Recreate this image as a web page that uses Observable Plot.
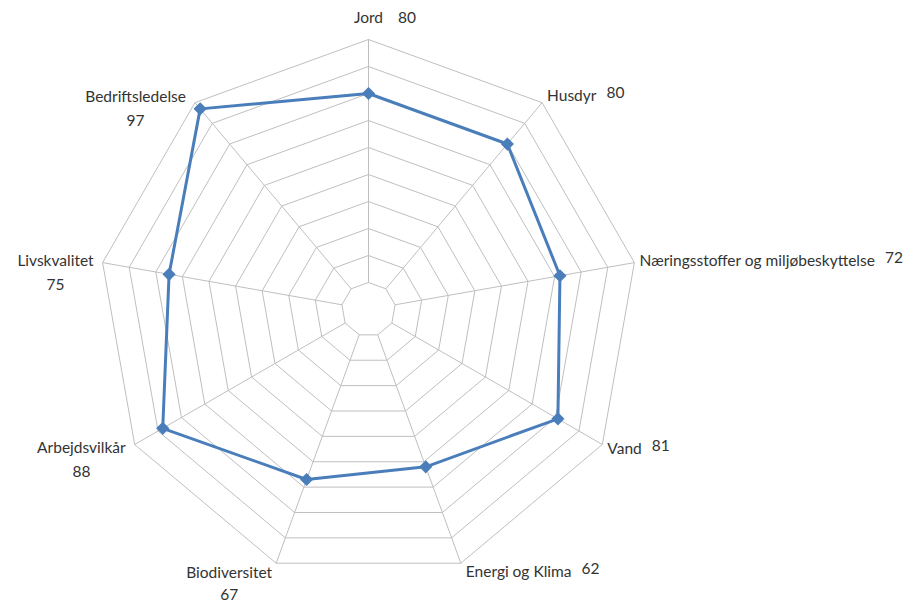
<!DOCTYPE html>
<html><head><meta charset="utf-8">
<script src="https://cdn.jsdelivr.net/npm/d3@7"></script>
<script src="https://cdn.jsdelivr.net/npm/@observablehq/plot@0.6"></script>
<style>body{margin:0;background:#fff;}</style>
</head><body><div id="chart"></div>
<script>
const categories = ["Jord","Husdyr","Næringsstoffer og miljøbeskyttelse","Vand","Energi og Klima","Biodiversitet","Arbejdsvilkår","Livskvalitet","Bedriftsledelse"];
const values = [80,80,72,81,62,67,88,75,97];
const ringLevels = [10,20,30,40,50,60,70,80,90,100];
const maxValue = 100;

const W = 921, H = 602, cx = 368, cy = 309, k = 2.7;
const n = categories.length;
const ang = i => i * 2 * Math.PI / n;
const px = (r, i) => r * Math.sin(ang(i));
const py = (r, i) => r * Math.cos(ang(i));

const rings = ringLevels.flatMap(lv => d3.range(n + 1).map(j => ({lv, x: px(lv, j % n), y: py(lv, j % n)})));
const spokes = categories.map((c, i) => ({c, x1: px(ringLevels[0], i), y1: py(ringLevels[0], i), x2: px(maxValue, i), y2: py(maxValue, i)}));
const series = values.map((v, i) => ({c: categories[i], v, x: px(v, i), y: py(v, i)}));
const seriesClosed = [...series, series[0]];

const fontSize = 15.5, fontFamily = "Lato";
const ctx = document.createElement("canvas").getContext("2d");
ctx.font = `${fontSize}px ${fontFamily}`;
const tw = s => ctx.measureText(s).width;

const labels = [], valueLabels = [];
categories.forEach((c, i) => {
  const s = Math.sin(ang(i)), co = Math.cos(ang(i));
  const vx = px(maxValue, i) * k, vy = -py(maxValue, i) * k; // pixel offsets from centre (y down)
  const w = tw(c), vw = tw(String(values[i]));
  let lcx, lcy, vcx, vcy;
  if (Math.abs(s) < 0.1) {          // top
    lcx = vx; lcy = vy - 21;
    vcx = lcx + w / 2 + 15 + vw / 2; vcy = lcy;
  } else if (s > 0) {               // right side
    const start = vx + 5;
    lcx = start + w / 2; lcy = vy - 9 * co;
    vcx = start + w + 10 + vw / 2; vcy = lcy - 3;
  } else {                          // left side
    const end = vx - (co < -0.8 ? 4 : 9);
    lcx = end - w / 2; lcy = vy - 8 * co + (co < -0.8 ? 2 : 0);
    vcx = lcx; vcy = lcy + (co < -0.8 ? 22 : 24);
  }
  labels.push({text: c, x: lcx / k, y: -lcy / k});
  valueLabels.push({text: String(values[i]), x: vcx / k, y: -vcy / k});
});

const chart = Plot.plot({
  width: W, height: H, margin: 0,
  x: {domain: [-cx / k, (W - cx) / k], axis: null},
  y: {domain: [-(H - cy) / k, cy / k], axis: null},
  style: {fontFamily, fontSize: fontSize + "px", background: "#fff"},
  marks: [
    Plot.line(rings, {x: "x", y: "y", z: "lv", stroke: "#bfbfbf", strokeWidth: 1}),
    Plot.link(spokes, {x1: "x1", y1: "y1", x2: "x2", y2: "y2", stroke: "#bfbfbf", strokeWidth: 1}),
    Plot.line(seriesClosed, {x: "x", y: "y", stroke: "#4a7ebb", strokeWidth: 3}),
    Plot.dot(series, {x: "x", y: "y", symbol: "diamond2", r: 5, fill: "#4a7ebb", stroke: "#4a7ebb"}),
    Plot.text(labels, {x: "x", y: "y", text: "text", fill: "#333333", fontSize}),
    Plot.text(valueLabels, {x: "x", y: "y", text: "text", fill: "#333333", fontSize})
  ]
});
document.getElementById("chart").appendChild(chart);
</script>
</body></html>
